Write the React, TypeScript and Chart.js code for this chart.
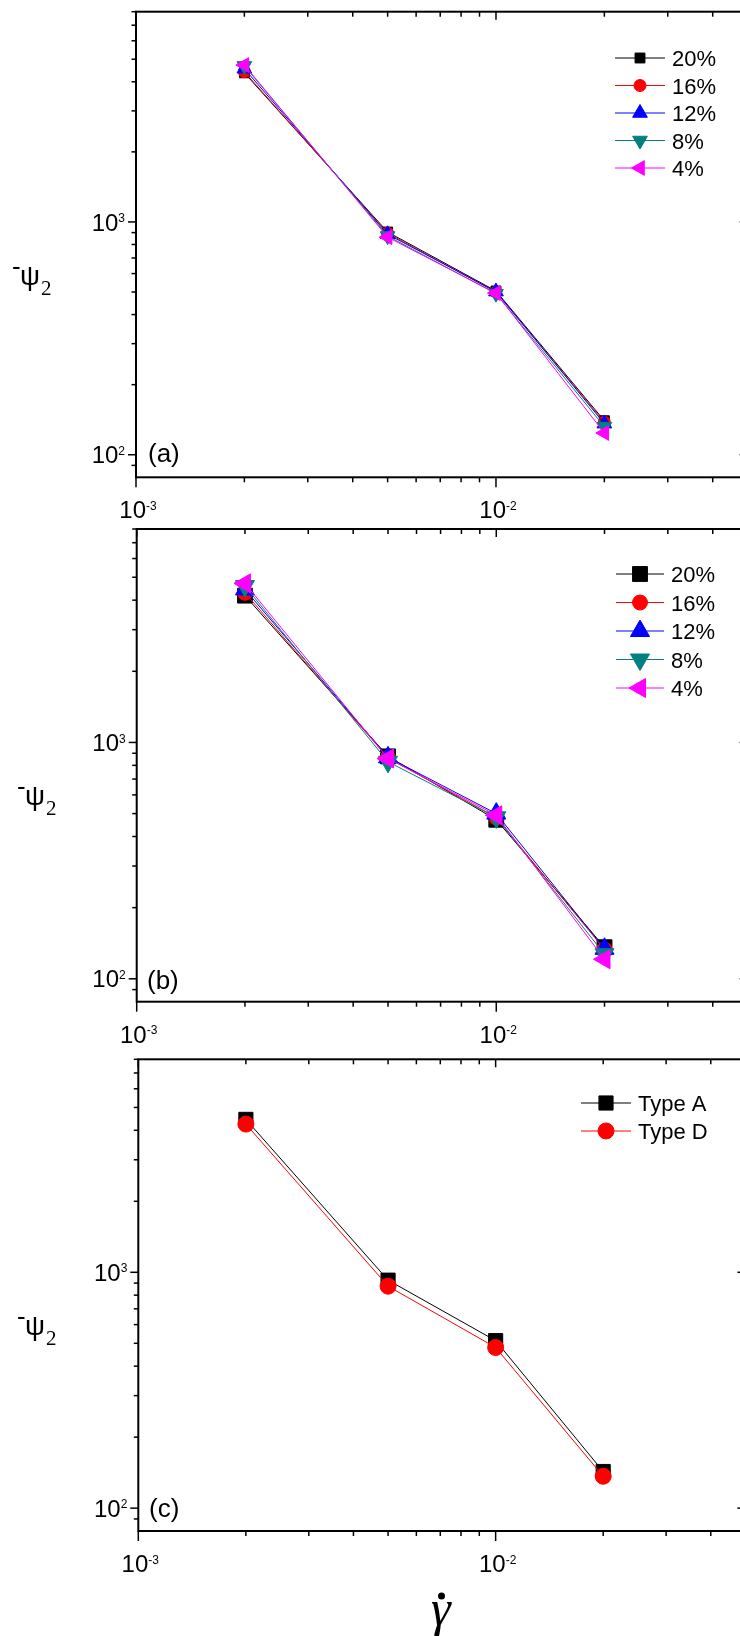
import React, { useEffect, useRef } from "react";
import { Chart, registerables } from "chart.js";
import { drawPoint } from "chart.js/helpers";

Chart.register(...registerables);

// Shear rates (x) shared by every panel
const shearRates = [0.002, 0.005, 0.01, 0.02];

// Panel (a): -psi2 for each volume fraction
const psiA20 = [4370, 905, 505, 140];
const psiA16 = [4420, 895, 500, 138];
const psiA12 = [4550, 885, 502, 136];
const psiA8 = [4680, 870, 492, 132];
const psiA4 = [4720, 860, 495, 124];

// Panel (b)
const psiB20 = [4180, 873, 471, 136];
const psiB16 = [4300, 860, 482, 133];
const psiB12 = [4440, 865, 500, 134];
const psiB8 = [4590, 828, 482, 127];
const psiB4 = [4710, 855, 492, 121];

// Panel (c)
const psiTypeA = [4450, 926, 513, 143];
const psiTypeD = [4250, 873, 480, 136.5];

const fractionLabels = ["20%", "16%", "12%", "8%", "4%"];
const typeLabels = ["Type A", "Type D"];

// Axis ticks
const xMajorTicks = [0.001, 0.01];
const xMajorLabels = ["-3", "-2"];
const xMinorTicks = [0.002, 0.003, 0.004, 0.005, 0.006, 0.007, 0.008, 0.009, 0.02, 0.03, 0.04, 0.05];
const yMajorTicks = [100, 1000];
const yMajorLabels = ["2", "3"];
const yMinorTicks = [90, 200, 300, 400, 500, 600, 700, 800, 900, 2000, 3000, 4000, 5000, 6000, 7000, 8000];

const X_MIN = 0.001;
const X_MAX = 0.05;
const Y_MIN = 80;
const Y_MAX = 8000;

const SANS = '"Liberation Sans", Arial, Helvetica, sans-serif';
const SERIF = '"Liberation Serif", "Times New Roman", serif';

type Series = {
  label: string;
  values: number[];
  color: string;
  style: string;
  rotation: number;
  radius: number;
};

type Panel = {
  top: number;
  height: number;
  padding: { left: number; right: number; top: number; bottom: number };
  tag: string;
  tagX: number;
  tagBaseline: number;
  titleX: number;
  legend: { x0: number; x1: number; mark: number; text: number; row0: number; gap: number };
  series: Series[];
  xTitle?: boolean;
};

const BLACK = "#000000";
const RED = "#ff0000";
const BLUE = "#0000ff";
const TEAL = "#008080";
const MAGENTA = "#ff00ff";

const panels: Panel[] = [
  {
    top: 0,
    height: 530,
    padding: { left: 136, right: 12.4, top: 11.7, bottom: 52.7 },
    tag: "(a)",
    tagX: 148,
    tagBaseline: 462,
    titleX: 12,
    legend: { x0: 615, x1: 665, mark: 640, text: 672, row0: 58, gap: 27.5 },
    series: [
      { label: fractionLabels[0], values: psiA20, color: BLACK, style: "rect", rotation: 0, radius: 7 },
      { label: fractionLabels[1], values: psiA16, color: RED, style: "circle", rotation: 0, radius: 6 },
      { label: fractionLabels[2], values: psiA12, color: BLUE, style: "triangle", rotation: 0, radius: 8.5 },
      { label: fractionLabels[3], values: psiA8, color: TEAL, style: "triangle", rotation: 180, radius: 8.5 },
      { label: fractionLabels[4], values: psiA4, color: MAGENTA, style: "triangle", rotation: 270, radius: 8.5 },
    ],
  },
  {
    top: 515,
    height: 535,
    padding: { left: 136.7, right: 12.4, top: 14, bottom: 48.3 },
    tag: "(b)",
    tagX: 147,
    tagBaseline: 474,
    titleX: 17,
    legend: { x0: 616, x1: 664, mark: 640, text: 671, row0: 59, gap: 28.5 },
    series: [
      { label: fractionLabels[0], values: psiB20, color: BLACK, style: "rect", rotation: 0, radius: 10.5 },
      { label: fractionLabels[1], values: psiB16, color: RED, style: "circle", rotation: 0, radius: 7.5 },
      { label: fractionLabels[2], values: psiB12, color: BLUE, style: "triangle", rotation: 0, radius: 11 },
      { label: fractionLabels[3], values: psiB8, color: TEAL, style: "triangle", rotation: 180, radius: 11 },
      { label: fractionLabels[4], values: psiB4, color: MAGENTA, style: "triangle", rotation: 270, radius: 11 },
    ],
  },
  {
    top: 1040,
    height: 596,
    padding: { left: 138.3, right: 14.6, top: 19.3, bottom: 105 },
    tag: "(c)",
    tagX: 149,
    tagBaseline: 477,
    titleX: 17,
    legend: { x0: 581, x1: 631, mark: 606, text: 638, row0: 63, gap: 28 },
    series: [
      { label: typeLabels[0], values: psiTypeA, color: BLACK, style: "rect", rotation: 0, radius: 10 },
      { label: typeLabels[1], values: psiTypeD, color: RED, style: "circle", rotation: 0, radius: 8 },
    ],
    xTitle: true,
  },
];

function drawPower(
  ctx: CanvasRenderingContext2D,
  exp: string,
  x: number,
  baseline: number,
  align: "center" | "right"
) {
  const base = `24px ${SANS}`;
  const sup = `12px ${SANS}`;
  ctx.font = base;
  const bw = ctx.measureText("10").width;
  ctx.font = sup;
  const sw = ctx.measureText(exp).width;
  const total = bw + sw;
  const left = align === "center" ? x - total / 2 : x - total;
  ctx.textAlign = "left";
  ctx.textBaseline = "alphabetic";
  ctx.font = base;
  ctx.fillText("10", left, baseline);
  ctx.font = sup;
  ctx.fillText(exp, left + bw, baseline - 8.5);
}

function makeDecorations(panel: Panel) {
  return {
    id: "panelDecorations",
    afterDraw(chart: any) {
      const ctx: CanvasRenderingContext2D = chart.ctx;
      const a = chart.chartArea;
      const xs = chart.scales.x;
      const ys = chart.scales.y;
      ctx.save();
      ctx.fillStyle = "#000";
      ctx.strokeStyle = "#000";

      // frame
      ctx.lineWidth = 2;
      ctx.strokeRect(a.left, a.top, a.right - a.left, a.bottom - a.top);

      // ticks
      ctx.lineWidth = 1.5;
      const vLine = (x: number, y0: number, y1: number) => {
        ctx.beginPath();
        ctx.moveTo(x, y0);
        ctx.lineTo(x, y1);
        ctx.stroke();
      };
      const hLine = (y: number, x0: number, x1: number) => {
        ctx.beginPath();
        ctx.moveTo(x0, y);
        ctx.lineTo(x1, y);
        ctx.stroke();
      };
      xMajorTicks.forEach((v) => {
        const px = xs.getPixelForValue(v);
        vLine(px, a.bottom, a.bottom + 10);
        vLine(px, a.top, a.top + 8);
      });
      xMinorTicks.forEach((v) => {
        const px = xs.getPixelForValue(v);
        vLine(px, a.bottom, a.bottom + 5);
        vLine(px, a.top, a.top + 5);
      });
      yMajorTicks.forEach((v) => {
        const py = ys.getPixelForValue(v);
        hLine(py, a.left - 8, a.left);
        hLine(py, a.right - 8, a.right);
      });
      yMinorTicks.forEach((v) => {
        const py = ys.getPixelForValue(v);
        hLine(py, a.left - 4.5, a.left);
        hLine(py, a.right - 4.5, a.right);
      });

      // tick labels
      xMajorTicks.forEach((v, i) => {
        const px = xs.getPixelForValue(v);
        drawPower(ctx, xMajorLabels[i], px + 2, a.bottom + 41, "center");
      });
      yMajorTicks.forEach((v, i) => {
        const py = ys.getPixelForValue(v);
        drawPower(ctx, yMajorLabels[i], a.left - 11, py + 8.6, "right");
      });

      // y axis title: -psi_2
      const y1000 = ys.getPixelForValue(1000);
      const psiTop = y1000 + 42;
      ctx.textAlign = "left";
      ctx.textBaseline = "alphabetic";
      ctx.font = `26px ${SANS}`;
      ctx.fillText("-", panel.titleX, psiTop + 11);
      ctx.font = `28px ${SANS}`;
      ctx.fillText("\u03C8", panel.titleX + 8, psiTop + 21);
      const psiW = ctx.measureText("\u03C8").width;
      ctx.font = `21px ${SERIF}`;
      ctx.fillText("2", panel.titleX + 9 + psiW, psiTop + 31);

      // panel tag
      ctx.font = `26px ${SANS}`;
      ctx.fillText(panel.tag, panel.tagX, panel.tagBaseline);

      // legend
      const L = panel.legend;
      panel.series.forEach((s, i) => {
        const ry = L.row0 + L.gap * i;
        ctx.strokeStyle = s.color;
        ctx.lineWidth = 1;
        hLine(ry, L.x0, L.x1);
        ctx.fillStyle = s.color;
        ctx.strokeStyle = s.color;
        drawPoint(ctx, { pointStyle: s.style, rotation: s.rotation, radius: s.radius, borderWidth: 1 }, L.mark, ry);
        ctx.fillStyle = "#000";
        ctx.font = `22px ${SANS}`;
        ctx.textAlign = "left";
        ctx.textBaseline = "alphabetic";
        ctx.fillText(s.label, L.text, ry + 8);
      });

      // x axis title: gamma dot
      if (panel.xTitle) {
        ctx.fillStyle = "#000";
        ctx.font = `italic 50px ${SERIF}`;
        ctx.textAlign = "left";
        ctx.fillText("\u03B3", 431, 585);
        ctx.beginPath();
        ctx.arc(441.5, 556, 3.5, 0, Math.PI * 2);
        ctx.fill();
      }
      ctx.restore();
    },
  };
}

function PanelChart({ panel }: { panel: Panel }) {
  const ref = useRef<HTMLCanvasElement | null>(null);
  useEffect(() => {
    if (!ref.current) return;
    const n = panel.series.length;
    const chart = new Chart(ref.current, {
      type: "line",
      data: {
        datasets: panel.series.map((s, i) => ({
          label: s.label,
          data: shearRates.map((x, k) => ({ x, y: s.values[k] })),
          borderColor: s.color,
          backgroundColor: s.color,
          borderWidth: 1,
          pointStyle: s.style as any,
          pointRotation: s.rotation,
          pointRadius: s.radius,
          pointBorderWidth: 1,
          pointBackgroundColor: s.color,
          pointBorderColor: s.color,
          tension: 0,
          order: n - 1 - i,
        })),
      },
      options: {
        responsive: false,
        animation: false,
        devicePixelRatio: 1,
        layout: { padding: panel.padding },
        plugins: { legend: { display: false }, tooltip: { enabled: false } },
        scales: {
          x: { type: "logarithmic", min: X_MIN, max: X_MAX, display: false },
          y: { type: "logarithmic", min: Y_MIN, max: Y_MAX, display: false },
        },
      },
      plugins: [makeDecorations(panel)],
    });
    return () => chart.destroy();
  }, [panel]);
  return (
    <canvas
      ref={ref}
      width={760}
      height={panel.height}
      style={{ position: "absolute", left: 0, top: panel.top, width: 760, height: panel.height }}
    />
  );
}

export default function App() {
  return (
    <div
      style={{
        position: "fixed",
        left: 0,
        top: 0,
        width: 740,
        height: 1636,
        overflow: "hidden",
        background: "#ffffff",
      }}
    >
      {panels.map((p, i) => (
        <PanelChart key={i} panel={p} />
      ))}
    </div>
  );
}
